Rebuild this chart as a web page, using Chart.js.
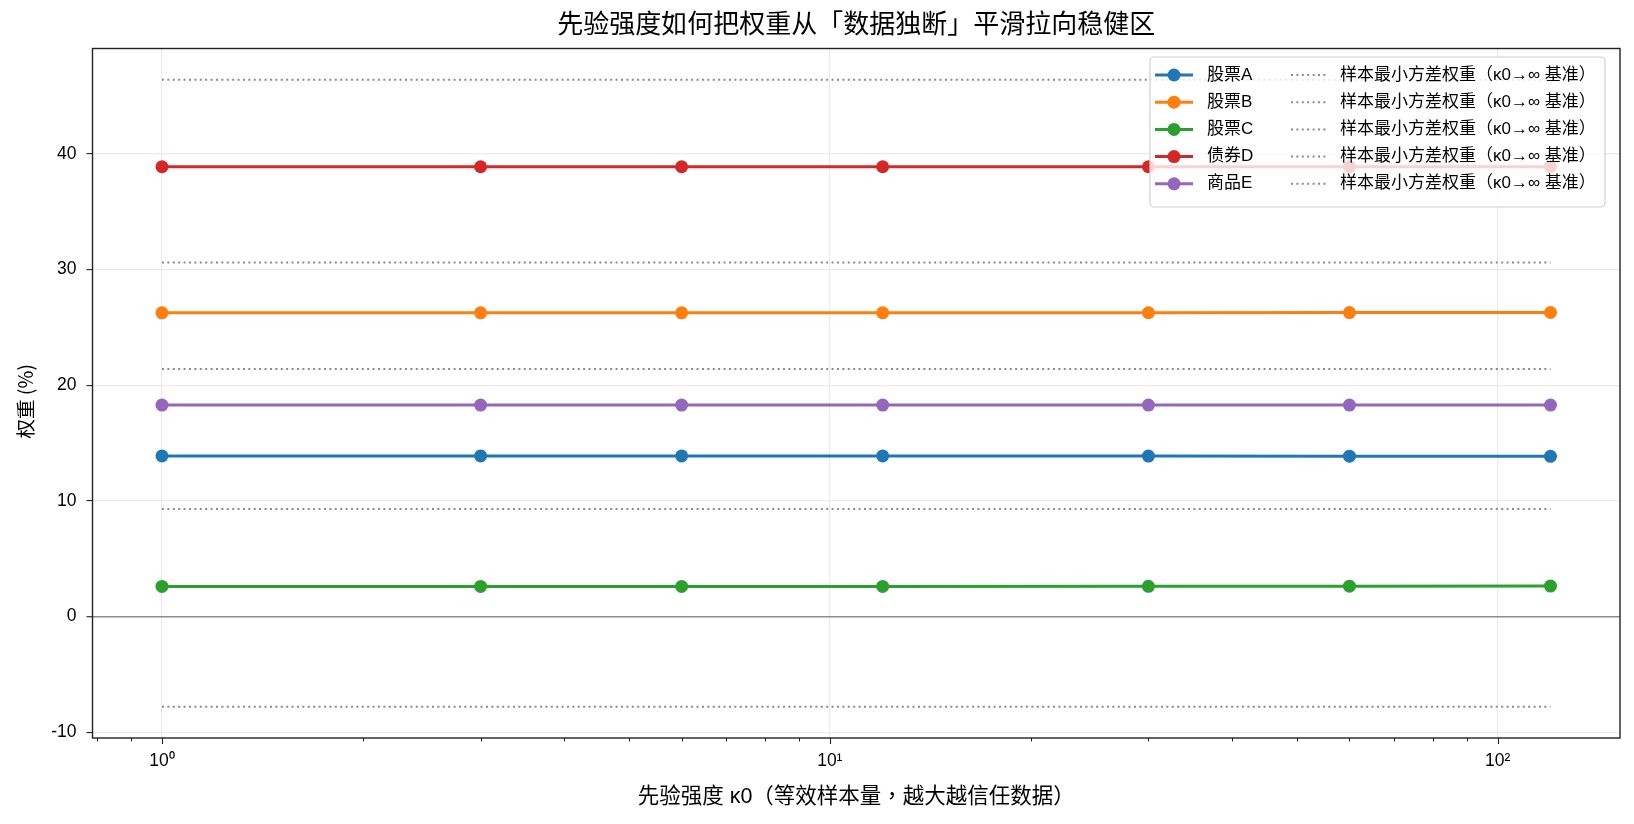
<!DOCTYPE html>
<html>
<head>
<meta charset="utf-8">
<script src="https://cdn.jsdelivr.net/npm/chart.js@4.4.1/dist/chart.umd.min.js"></script>
<style>
html, body { margin: 0; padding: 0; background: #fff; }
#wrap { width: 1634px; height: 824px; }
</style>
</head>
<body>
<div id="wrap"><canvas id="chart"></canvas></div>
<script>
// 先验强度 κ0
const kappa = [1, 3, 6, 12, 30, 60, 120];

const assetNames = ["股票A", "股票B", "股票C", "债券D", "商品E"];
const assetColors = ["#1f77b4", "#ff7f0e", "#2ca02c", "#d62728", "#9467bd"];

// 权重 (%)
const weightA = [13.88, 13.88, 13.88, 13.88, 13.87, 13.86, 13.85];
const weightB = [26.25, 26.25, 26.25, 26.25, 26.26, 26.27, 26.28];
const weightC = [2.60, 2.60, 2.60, 2.60, 2.61, 2.62, 2.63];
const weightD = [38.88, 38.88, 38.88, 38.88, 38.88, 38.88, 38.88];
const weightE = [18.28, 18.28, 18.28, 18.28, 18.28, 18.28, 18.28];

// 样本最小方差权重 (κ0→∞ 基准)
const baselineLevels = [9.3, 30.6, -7.8, 46.4, 21.4];
const baselineLabel = "样本最小方差权重（κ0→∞ 基准）";

const xMajorTicks = [1, 10, 100];
const xMajorLabels = ["10⁰", "10¹", "10²"];
const xMinorTicks = [0.8, 0.9, 2, 3, 4, 5, 6, 7, 8, 9, 20, 30, 40, 50, 60, 70, 80, 90];
const yTicks = [-10, 0, 10, 20, 30, 40];

const chartTitle = "先验强度如何把权重从「数据独断」平滑拉向稳健区";
const yTitle = "权重 (%)";

const FONT = "'Liberation Sans', 'Noto Sans CJK TC', sans-serif";
const CJK_FONT = "'Noto Sans CJK TC', 'Liberation Sans', sans-serif";
Chart.defaults.font.family = FONT;
Chart.defaults.color = "#000";

const weights = [weightA, weightB, weightC, weightD, weightE];

const datasets = [];
weights.forEach((w, i) => {
    datasets.push({
        label: assetNames[i],
        data: kappa.map((k, j) => ({ x: k, y: w[j] })),
        borderColor: assetColors[i],
        backgroundColor: assetColors[i],
        borderWidth: 3,
        pointRadius: 6.5,
        pointBorderWidth: 0,
        pointHoverRadius: 6.5,
        tension: 0,
        isBaseline: false,
    });
});
baselineLevels.forEach((b) => {
    datasets.push({
        label: baselineLabel,
        data: [{ x: kappa[0], y: b }, { x: kappa[kappa.length - 1], y: b }],
        borderColor: "#8a8a8a",
        borderWidth: 2,
        borderDash: [2, 3.4],
        pointRadius: 0,
        isBaseline: true,
    });
});

const framePlugin = {
    id: "frame",
    afterDatasetsDraw(chart) {
        const ctx = chart.ctx;
        const a = chart.chartArea;
        const xs = chart.scales.x;
        ctx.save();
        ctx.strokeStyle = "#222";
        ctx.lineWidth = 1.1;
        xs.ticks.forEach((t) => {
            const px = Math.round(xs.getPixelForValue(t.value)) + 0.5;
            const len = xMajorTicks.includes(t.value) ? 6 : 3.5;
            ctx.beginPath();
            ctx.moveTo(px, a.bottom);
            ctx.lineTo(px, a.bottom + len);
            ctx.stroke();
        });
        ctx.lineWidth = 1.4;
        ctx.strokeRect(a.left, a.top, a.right - a.left, a.bottom - a.top);

        // title, centred over the plot area
        ctx.fillStyle = "#000";
        ctx.textAlign = "center";
        ctx.textBaseline = "middle";
        ctx.font = "26px " + FONT;
        ctx.fillText(chartTitle, (a.left + a.right) / 2, 26);

        // y axis label
        ctx.translate(26, (a.top + a.bottom) / 2 + 8);
        ctx.rotate(-Math.PI / 2);
        ctx.font = "19.5px " + CJK_FONT;
        ctx.fillText(yTitle, 0, 0);
        ctx.restore();
    },
};

const legendPlugin = {
    id: "legendBox",
    afterDatasetsDraw(chart) {
        const ctx = chart.ctx;
        const a = chart.chartArea;
        const boxW = 455, boxH = 150;
        const bx = a.right - 15 - boxW, by = a.top + 8.5;
        ctx.save();
        ctx.beginPath();
        ctx.roundRect(bx, by, boxW, boxH, 4);
        ctx.fillStyle = "rgba(255,255,255,0.8)";
        ctx.fill();
        ctx.strokeStyle = "#d0d0d0";
        ctx.lineWidth = 1.2;
        ctx.stroke();

        ctx.font = "17px " + FONT;
        ctx.textBaseline = "middle";
        ctx.textAlign = "left";
        const lines = chart.data.datasets.filter((d) => !d.isBaseline);
        const bases = chart.data.datasets.filter((d) => d.isBaseline);
        lines.forEach((d, i) => {
            const y = by + 18 + i * 27.2;
            ctx.strokeStyle = d.borderColor;
            ctx.lineWidth = 3;
            ctx.setLineDash([]);
            ctx.beginPath();
            ctx.moveTo(bx + 5, y);
            ctx.lineTo(bx + 43, y);
            ctx.stroke();
            ctx.fillStyle = d.backgroundColor;
            ctx.beginPath();
            ctx.arc(bx + 24, y, 6.5, 0, Math.PI * 2);
            ctx.fill();
            ctx.fillStyle = "#000";
            ctx.fillText(d.label, bx + 57, y);
        });
        bases.forEach((d, i) => {
            const y = by + 18 + i * 27.2;
            ctx.strokeStyle = d.borderColor;
            ctx.lineWidth = 2;
            ctx.setLineDash([2, 3.4]);
            ctx.beginPath();
            ctx.moveTo(bx + 141, y);
            ctx.lineTo(bx + 177, y);
            ctx.stroke();
            ctx.setLineDash([]);
            ctx.fillStyle = "#000";
            ctx.fillText(d.label, bx + 190, y);
        });
        ctx.restore();
    },
};

new Chart(document.getElementById("chart"), {
    type: "line",
    data: { datasets: datasets },
    options: {
        responsive: true,
        maintainAspectRatio: false,
        animation: false,
        events: [],
        layout: { padding: { left: 0, right: 14, top: 48.5, bottom: 0 } },
        plugins: {
            legend: { display: false },
            tooltip: { enabled: false },
            title: { display: false },
        },
        scales: {
            x: {
                type: "logarithmic",
                min: 0.787,
                max: 152.5,
                border: { display: false },
                grid: {
                    drawTicks: false,
                    color: (c) => (c.tick && xMajorTicks.includes(c.tick.value) ? "#ebebeb" : "rgba(0,0,0,0)"),
                    lineWidth: 1.2,
                },
                afterBuildTicks: (scale) => {
                    scale.ticks = xMinorTicks.concat(xMajorTicks).sort((p, q) => p - q).map((v) => ({ value: v }));
                },
                afterFit: (scale) => { scale.height = 86; },
                ticks: {
                    autoSkip: false,
                    maxRotation: 0,
                    padding: 13,
                    font: { size: 17.5 },
                    color: "#000",
                    callback: (v) => {
                        const i = xMajorTicks.indexOf(v);
                        return i >= 0 ? xMajorLabels[i] : "";
                    },
                },
                title: {
                    display: true,
                    text: "先验强度 κ0（等效样本量，越大越信任数据）",
                    color: "#000",
                    font: { size: 21.5 },
                    padding: { top: 0, bottom: 14.5 },
                },
            },
            y: {
                type: "linear",
                min: -10.5,
                max: 49.1,
                border: { display: false },
                grid: {
                    color: (c) => (c.tick && c.tick.value === 0 ? "#8c8c8c" : "#ebebeb"),
                    lineWidth: (c) => (c.tick && c.tick.value === 0 ? 1.5 : 1.2),
                    tickColor: "#222",
                    tickLength: 6,
                    tickWidth: 1.1,
                },
                afterBuildTicks: (scale) => {
                    scale.ticks = yTicks.map((v) => ({ value: v }));
                },
                afterFit: (scale) => { scale.width = 92.5; },
                ticks: {
                    padding: 10,
                    font: { size: 17.5 },
                    color: "#000",
                    callback: (v) => String(v),
                },
                title: { display: false },
            },
        },
    },
    plugins: [framePlugin, legendPlugin],
});
</script>
</body>
</html>
